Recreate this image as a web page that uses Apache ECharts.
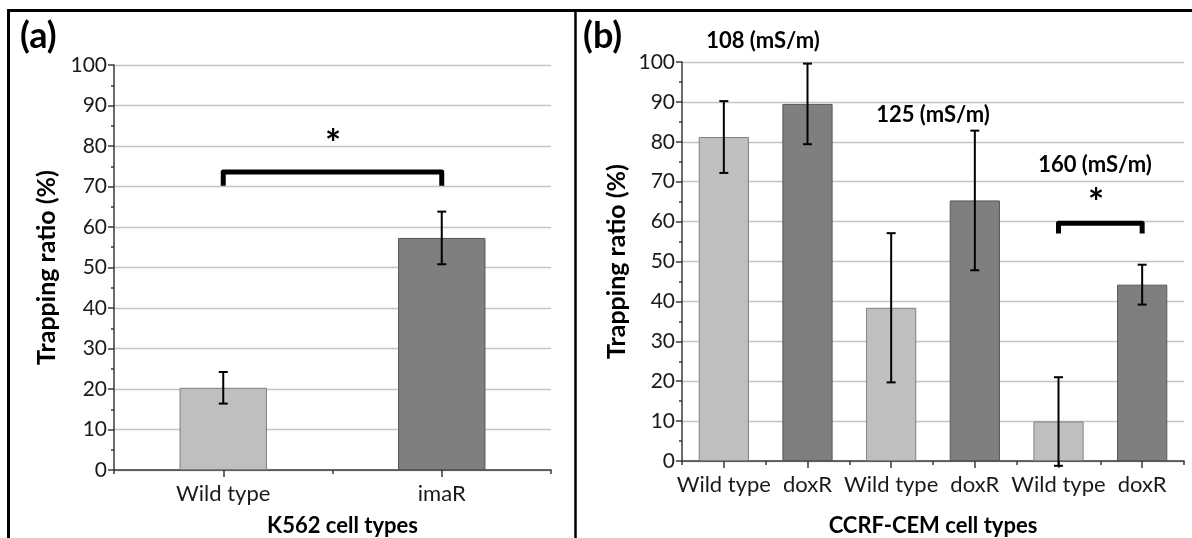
<!DOCTYPE html>
<html>
<head>
<meta charset="utf-8">
<script src="https://cdn.jsdelivr.net/npm/echarts@6/dist/echarts.min.js"></script>
<style>
html,body{margin:0;padding:0;background:#fff;}
#chart{width:1192px;height:538px;}
</style>
</head>
<body>
<div id="chart"></div>
<script>
// ---- data ----
const catsA = ['Wild type', 'imaR'];
const valsA = [20.3, 57.3];
const errA = [3.9, 6.5];

const catsB = ['Wild type', 'doxR', 'Wild type', 'doxR', 'Wild type', 'doxR'];
const valsB = [81.2, 89.5, 38.4, 65.3, 9.9, 44.2];
const errB = [9.0, 10.1, 18.7, 17.5, 11.1, 5.0];

const yTicks = [0, 10, 20, 30, 40, 50, 60, 70, 80, 90, 100];

// significance brackets: [fromIndex, toIndex, topValue, legValue]
const bracketA = [[0, 1, 73.6, 70.2]];
const bracketB = [[4, 5, 59.6, 57.0]];

const conductivityLabels = ['108 (mS/m)', '125 (mS/m)', '160 (mS/m)'];

// ---- styling ----
const FONT = 'Lato';
const LIGHT = '#bfbfbf', LIGHT_B = '#7f7f7f';
const DARK = '#7f7f7f', DARK_B = '#555555';
const AX = '#3a3a3a';

function barData(vals) {
  return vals.map((v, i) => ({
    value: v,
    itemStyle: {
      color: i % 2 === 0 ? LIGHT : DARK,
      borderColor: i % 2 === 0 ? LIGHT_B : DARK_B,
      borderWidth: 1
    }
  }));
}
function errData(vals, errs) {
  return vals.map((v, i) => [i, v - errs[i], v + errs[i]]);
}
function errRender(params, api) {
  const x = api.value(0);
  const lo = api.coord([x, api.value(1)]);
  const hi = api.coord([x, api.value(2)]);
  const hw = 4.5;
  const st = { stroke: '#000', lineWidth: 2 };
  return {
    type: 'group',
    children: [
      { type: 'line', shape: { x1: lo[0], y1: lo[1], x2: hi[0], y2: hi[1] }, style: st },
      { type: 'line', shape: { x1: hi[0] - hw, y1: hi[1], x2: hi[0] + hw, y2: hi[1] }, style: st },
      { type: 'line', shape: { x1: lo[0] - hw, y1: lo[1], x2: lo[0] + hw, y2: lo[1] }, style: st }
    ]
  };
}
function bracketRender(params, api) {
  const a = api.coord([api.value(0), api.value(2)]);
  const b = api.coord([api.value(1), api.value(2)]);
  const aL = api.coord([api.value(0), api.value(3)]);
  const bL = api.coord([api.value(1), api.value(3)]);
  return {
    type: 'polyline',
    shape: { points: [[aL[0], aL[1]], [a[0], a[1]], [b[0], b[1]], [bL[0], bL[1]]] },
    style: { stroke: '#000', lineWidth: 5, fill: null, lineJoin: 'round', lineCap: 'butt' }
  };
}

function yAxisCfg(gi, gap) {
  return {
    type: 'value', gridIndex: gi, min: yTicks[0], max: yTicks[yTicks.length - 1], interval: 10,
    axisLine: { show: true, lineStyle: { color: AX, width: 1.5 } },
    axisTick: { show: true, length: 6, lineStyle: { color: AX, width: 1.5 } },
    minorTick: { show: true, splitNumber: 2, length: 3, lineStyle: { color: AX, width: 1.5 } },
    splitLine: { show: true, lineStyle: { color: '#c4c4c4', width: 1.3 } },
    axisLabel: { fontFamily: FONT, fontSize: 21, color: '#1a1a1a', margin: 7 },
    name: 'Trapping ratio (%)', nameLocation: 'middle', nameGap: gap,
    nameTextStyle: { fontFamily: FONT, fontSize: 25, fontWeight: 'bold', color: '#000' }
  };
}
function xAxisCfg(gi, cats, name, gap, pad) {
  return {
    type: 'category', gridIndex: gi, data: cats, position: 'bottom',
    axisLine: { show: true, lineStyle: { color: AX, width: 1.5 } },
    axisTick: { show: true, length: 4, alignWithLabel: false, lineStyle: { color: AX, width: 1.5 } },
    axisLabel: { fontFamily: FONT, fontSize: 22, color: '#1a1a1a', margin: 13, interval: 0, hideOverlap: false },
    name: name, nameLocation: 'middle', nameGap: gap,
    nameTextStyle: { fontFamily: FONT, fontSize: 22, fontWeight: 'bold', color: '#000', padding: pad }
  };
}
function xAxisCenterTicks(gi, cats) {
  return {
    type: 'category', gridIndex: gi, data: cats, position: 'bottom',
    axisLine: { show: false },
    axisTick: { show: true, length: 7, alignWithLabel: true, lineStyle: { color: AX, width: 1.5 } },
    axisLabel: { show: false }, splitLine: { show: false }
  };
}

const chart = echarts.init(document.getElementById('chart'), null, { renderer: 'canvas' });

const txt = (x, y, text, size, align) => ({
  type: 'text', x: x, y: y, silent: true,
  style: { text: text, fontFamily: FONT, fontSize: size, fontWeight: 'bold', fill: '#000',
    align: align || 'center', verticalAlign: 'middle' }
});

chart.setOption({
  animation: false,
  backgroundColor: '#fff',
  grid: [
    { left: 114, top: 65, width: 437, height: 405, containLabel: false, outerBoundsMode: 'none' },
    { left: 682, top: 62, width: 502, height: 399, containLabel: false, outerBoundsMode: 'none' }
  ],
  xAxis: [
    xAxisCfg(0, catsA, 'K562 cell types', 45, [0, 0, 0, 20]),
    xAxisCenterTicks(0, catsA),
    xAxisCfg(1, catsB, 'CCRF-CEM cell types', 54, [0, 0, 0, 0]),
    xAxisCenterTicks(1, catsB)
  ],
  yAxis: [yAxisCfg(0, 55), yAxisCfg(1, 53)],
  series: [
    { type: 'bar', xAxisIndex: 0, yAxisIndex: 0, data: barData(valsA), barWidth: '40%' },
    { type: 'custom', xAxisIndex: 0, yAxisIndex: 0, data: errData(valsA, errA), renderItem: errRender, clip: false, z: 5 },
    { type: 'custom', xAxisIndex: 0, yAxisIndex: 0, data: bracketA, renderItem: bracketRender, clip: false, z: 5 },
    { type: 'bar', xAxisIndex: 2, yAxisIndex: 1, data: barData(valsB), barWidth: '60%' },
    { type: 'custom', xAxisIndex: 2, yAxisIndex: 1, data: errData(valsB, errB), renderItem: errRender, clip: false, z: 5 },
    { type: 'custom', xAxisIndex: 2, yAxisIndex: 1, data: bracketB, renderItem: bracketRender, clip: false, z: 5 }
  ],
  graphic: [
    { type: 'line', shape: { x1: 7, y1: 10.5, x2: 1192, y2: 10.5 }, style: { stroke: '#000', lineWidth: 3 } },
    { type: 'line', shape: { x1: 8.5, y1: 9, x2: 8.5, y2: 538 }, style: { stroke: '#000', lineWidth: 3 } },
    { type: 'line', shape: { x1: 575.5, y1: 9, x2: 575.5, y2: 538 }, style: { stroke: '#000', lineWidth: 2.5 } },
    txt(20, 36, '(a)', 36, 'left'),
    txt(583, 36, '(b)', 36, 'left'),
    txt(333, 145, '*', 38),
    txt(1096, 204, '*', 38),
    txt(763, 41, conductivityLabels[0], 22),
    txt(933, 115, conductivityLabels[1], 22),
    txt(1095, 165, conductivityLabels[2], 22)
  ]
});
</script>
</body>
</html>
